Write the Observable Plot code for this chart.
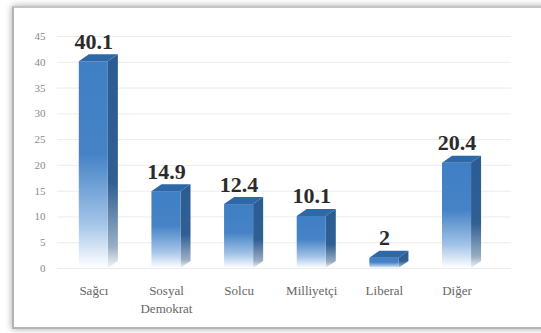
<!DOCTYPE html>
<html>
<head>
<meta charset="utf-8">
<script src="https://cdn.jsdelivr.net/npm/d3@7"></script>
<script src="https://cdn.jsdelivr.net/npm/@observablehq/plot@0.6"></script>
<style>
  html, body { margin: 0; padding: 0; background: #fff; }
  body { width: 541px; height: 333px; position: relative; overflow: hidden; }
  #frame {
    position: absolute; left: 12px; top: 6px; width: 545px; height: 319px;
    border-left: 2px solid #b4b4b4; border-top: 2px solid #c4c4c4; border-bottom: 2px solid #b4b4b4;
    box-shadow: 0 0 7px rgba(0,0,0,0.35); background: #fff;
  }
  #chart { position: absolute; left: 0; top: 0; }
  #chart svg, #chart svg text { font-family: "Liberation Serif", "DejaVu Serif", serif !important; }
</style>
</head>
<body>
<div id="frame"></div>
<div id="chart"></div>
<script>
const categories = ["Sağcı", "Sosyal\nDemokrat", "Solcu", "Milliyetçi", "Liberal", "Diğer"];
const values = [40.1, 14.9, 12.4, 10.1, 2, 20.4];
const yTicks = [0, 5, 10, 15, 20, 25, 30, 35, 40, 45];

const rows = categories.map((c, i) => ({i, c, v: values[i]}));

// 3D bar geometry (in scale units)
const W = 0.2;    // half front width
const D = 0.138;  // depth offset along x
const E = 1.35;   // depth offset along y

const sideFaces = rows.flatMap(d => [
  {i: d.i, x: d.i + W, y1: 0, y2: d.v},
  {i: d.i, x: d.i + W + D, y1: E, y2: d.v + E}
]);
const topFaces = rows.flatMap(d => [
  {i: d.i, y: d.v, x1: d.i - W, x2: d.i + W},
  {i: d.i, y: d.v + E, x1: d.i - W + D, x2: d.i + W + D}
]);

const serif = "Liberation Serif";

const plot = Plot.plot({
  width: 541,
  height: 333,
  marginLeft: 57,
  marginRight: 30,
  marginTop: 36,
  marginBottom: 65,
  style: {fontFamily: serif, fontSize: "11px", background: "transparent", color: "#8a8a8a"},
  x: {domain: [-0.5, 5.75], axis: null},
  y: {domain: [0, 45], ticks: yTicks, tickSize: 0, tickPadding: 12, label: null},
  marks: [
    Plot.ruleY(yTicks, {stroke: "#ececec", strokeWidth: 1}),
    Plot.area(sideFaces, {x1: "x", y1: "y1", y2: "y2", z: "i", fill: "url(#sideGrad)"}),
    Plot.rect(rows, {x1: d => d.i - W, x2: d => d.i + W, y1: 0, y2: "v", fill: "url(#frontGrad)"}),
    Plot.area(topFaces, {x1: "x1", x2: "x2", y1: "y", z: "i", fill: "#2f68a6"}),
    Plot.text(rows, {x: "i", y: "v", text: d => String(d.v), dy: -13, lineAnchor: "bottom",
      fontSize: 22, fontWeight: "bold", fontFamily: serif, fill: "#2b2b2b"}),
    Plot.text(rows, {x: "i", y: 0, text: "c", lineAnchor: "top", dy: 14, fontSize: 13,
      fontFamily: serif, lineHeight: 1.35, fill: "#666"})
  ]
});

const svg = plot.tagName.toLowerCase() === "svg" ? plot : plot.querySelector("svg");
const ns = "http://www.w3.org/2000/svg";
const defs = document.createElementNS(ns, "defs");
defs.innerHTML = `
  <linearGradient id="frontGrad" x1="0" y1="0" x2="0" y2="1">
    <stop offset="0" stop-color="#3f7fc4"/>
    <stop offset="0.45" stop-color="#4683c6"/>
    <stop offset="0.78" stop-color="#a2c3e7"/>
    <stop offset="1" stop-color="#ffffff"/>
  </linearGradient>
  <linearGradient id="sideGrad" x1="0" y1="0" x2="0" y2="1">
    <stop offset="0" stop-color="#2a5c94"/>
    <stop offset="0.6" stop-color="#305f92"/>
    <stop offset="0.9" stop-color="#9aaec4"/>
    <stop offset="1" stop-color="#f4f6f9"/>
  </linearGradient>`;
svg.insertBefore(defs, svg.firstChild);
document.getElementById("chart").appendChild(plot);
</script>
</body>
</html>
